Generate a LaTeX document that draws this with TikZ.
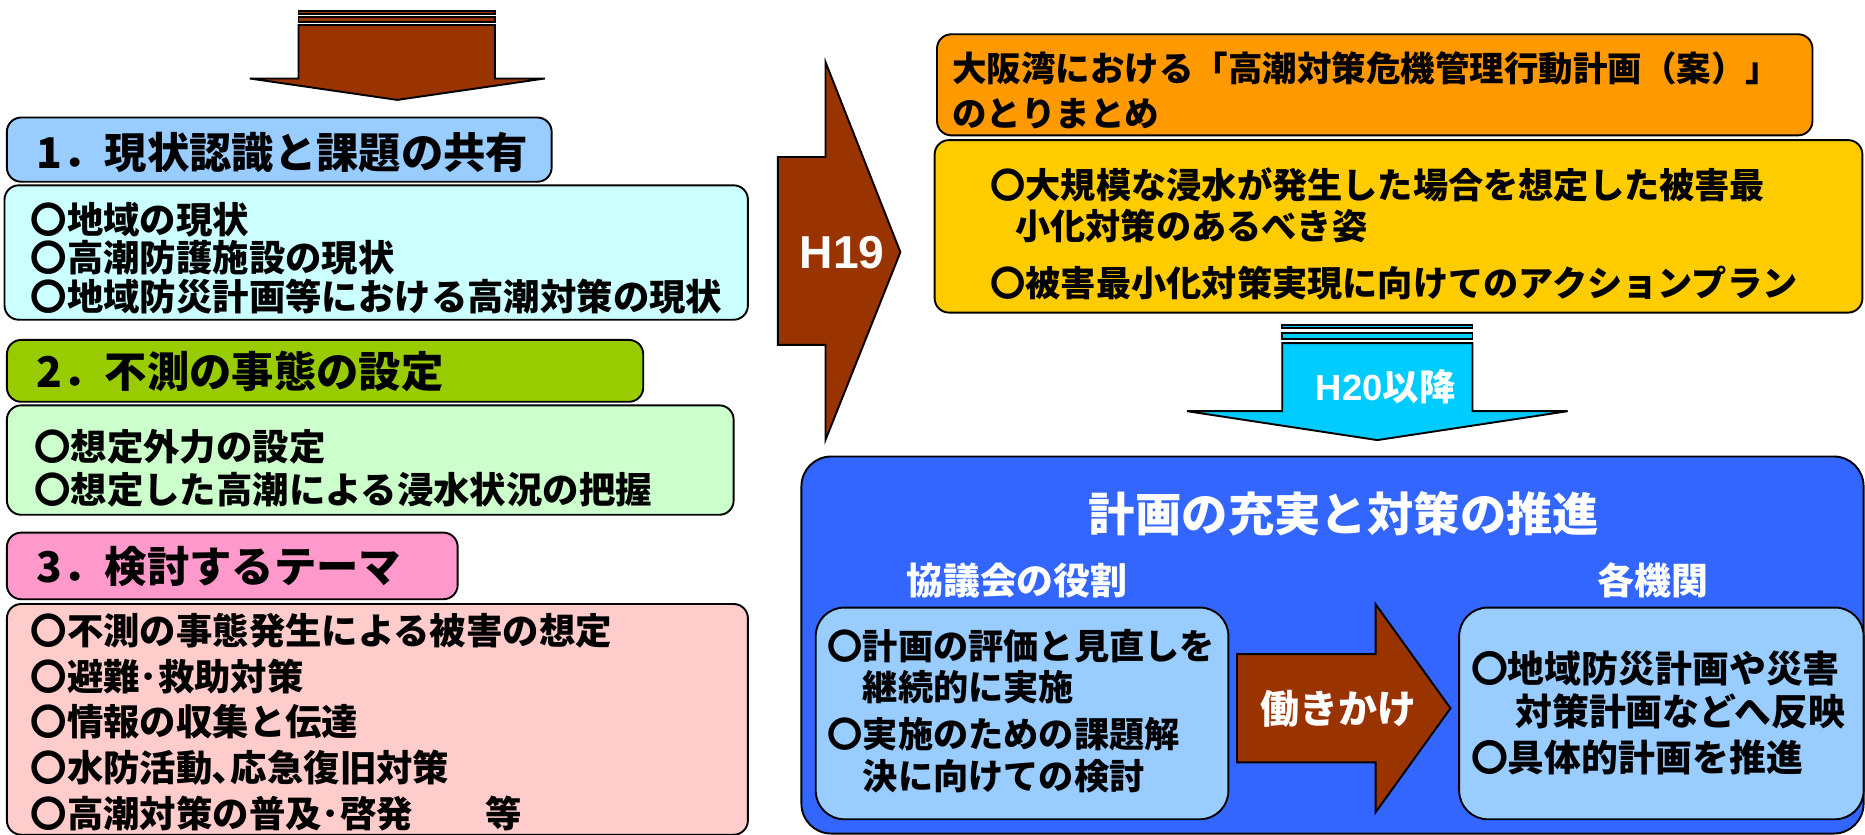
\documentclass[tikz,border=0pt]{standalone}
\usepackage{fontspec}
\setmainfont{Noto Sans CJK JP}
\newfontfamily\latinsans{Liberation Sans}
\usetikzlibrary{positioning}
\definecolor{arrowbrown}{HTML}{993300}
\definecolor{hdrblue}{HTML}{99CCFF}
\definecolor{bodycyan}{HTML}{CCFFFF}
\definecolor{hdrgreen}{HTML}{99CC00}
\definecolor{bodygreen}{HTML}{CCFFCC}
\definecolor{hdrpink}{HTML}{FF99CC}
\definecolor{bodypink}{HTML}{FFCCCC}
\definecolor{boxorange}{HTML}{FF9900}
\definecolor{boxyellow}{HTML}{FFCC00}
\definecolor{arrowcyan}{HTML}{00CCFF}
\definecolor{bigblue}{HTML}{3366FF}
\tikzset{
  panel/.style={draw=black, line width=0.8pt, rounded corners=6pt, anchor=north west, inner sep=0pt},
  hdrtext/.style={anchor=west, inner sep=0pt, font=\bfseries\fontsize{17.8}{20}\selectfont},
  listtext/.style={anchor=west, inner sep=0pt, align=left},
  whitetext/.style={text=white, inner sep=0pt}
}
\begin{document}
\begin{tikzpicture}[x=0.5pt, y=-0.5pt, line width=0.8pt]
\useasboundingbox (0,0) rectangle (1568,702);

% arrow on top
\draw[fill=arrowbrown] (251,9) rectangle (416,12);
\draw[fill=arrowbrown] (251,14.5) rectangle (416,18.5);
\draw[fill=arrowbrown] (251,21) -- (416,21) -- (416,66) -- (458,66) -- (334,84) -- (210,66) -- (251,66) -- cycle;

% left column
\node[panel, fill=hdrblue, minimum width=229pt, minimum height=27pt] (hdr1) at (5,98) {};
\node[panel, fill=bodycyan, minimum width=312.5pt, minimum height=56.5pt] (body1) at (3,155) {};
\node[panel, fill=hdrgreen, minimum width=267.5pt, minimum height=26pt] (hdr2) at (5,285) {};
\node[panel, fill=bodygreen, minimum width=305.5pt, minimum height=46pt] (body2) at (5,340) {};
\node[panel, fill=hdrpink, minimum width=189.5pt, minimum height=28pt] (hdr3) at (5,447) {};
\node[panel, fill=bodypink, minimum width=311.5pt, minimum height=97pt] (body3) at (5,507) {};

\node[hdrtext] (hdr1text) at (30,128) {1．現状認識と課題の共有};
\node[listtext, font=\bfseries\fontsize{15.3}{16.25}\selectfont] (body1text) at (25,217)
  {〇地域の現状\\〇高潮防護施設の現状\\〇地域防災計画等における高潮対策の現状};
\node[hdrtext] (hdr2text) at (30,312) {2．不測の事態の設定};
\node[listtext, font=\bfseries\fontsize{15.3}{18}\selectfont] (body2text) at (28,394)
  {〇想定外力の設定\\〇想定した高潮による浸水状況の把握};
\node[hdrtext] (hdr3text) at (30,476) {3．検討するテーマ};
\node[listtext, font=\bfseries\fontsize{15.3}{19.2}\selectfont] (body3text) at (25,607)
  {〇不測の事態発生による被害の想定\\〇避難･救助対策\\〇情報の収集と伝達\\〇水防活動､応急復旧対策\\〇高潮対策の普及･啓発　　等};

% H19
\draw[fill=arrowbrown] (654,132) -- (694,132) -- (694,52) -- (757,212) -- (694,370) -- (694,290) -- (654,290) -- cycle;
\node[whitetext, font=\latinsans\bfseries\fontsize{19.4}{22}\selectfont] (h19) at (708,212) {H19};

% right column top
\node[panel, fill=boxorange, minimum width=368pt, minimum height=42.5pt] (plan) at (787,28) {};
\node[panel, fill=boxyellow, minimum width=390pt, minimum height=72.5pt] (content) at (785,117) {};
\node[listtext, font=\bfseries\fontsize{14.5}{19}\selectfont] (plantext) at (800,76)
  {大阪湾における「高潮対策危機管理行動計画（案）」\\のとりまとめ};
\node[listtext, font=\bfseries\fontsize{14.8}{17.5}\selectfont] (contenta) at (832,172.5)
  {〇大規模な浸水が発生した場合を想定した被害最\\\hspace{0.7em}小化対策のあるべき姿};
\node[listtext, font=\bfseries\fontsize{14.8}{17.5}\selectfont] (contentb) at (832,238)
  {〇被害最小化対策実現に向けてのアクションプラン};

% H20
\draw[fill=arrowcyan] (1078,273) rectangle (1238,276);
\draw[fill=arrowcyan] (1078,280) rectangle (1238,285);
\draw[fill=arrowcyan] (1078,288.5) -- (1238,288.5) -- (1238,345.7) -- (1318,345.7) -- (1158,370) -- (998,345.7) -- (1078,345.7) -- cycle;
\node[whitetext, font=\bfseries\fontsize{15.3}{18}\selectfont] (h20) at (1165,325) {{\latinsans H20}以降};

% bottom blue panel
\node[panel, fill=bigblue, rounded corners=12.5pt, minimum width=446.5pt, minimum height=158.5pt] (promo) at (673,383) {};
\node[whitetext, font=\bfseries\fontsize{19.5}{22}\selectfont] (promotitle) at (1130,432) {計画の充実と対策の推進};
\node[whitetext, font=\bfseries\fontsize{15.5}{18}\selectfont] (council) at (855,488) {協議会の役割};
\node[whitetext, font=\bfseries\fontsize{15.5}{18}\selectfont] (agencies) at (1390,488) {各機関};

\node[panel, fill=hdrblue, rounded corners=12pt, minimum width=173.5pt, minimum height=89pt] (councilbox) at (685,510) {};
\node[panel, fill=hdrblue, rounded corners=12pt, minimum width=170pt, minimum height=89pt] (agencybox) at (1226,510) {};

\draw[fill=arrowbrown] (1040,550) -- (1156.5,550) -- (1156.5,508) -- (1219.5,595.5) -- (1156.5,683) -- (1156.5,641) -- (1040,641) -- cycle;
\node[whitetext, font=\bfseries\fontsize{16.4}{19}\selectfont] (approach) at (1125,595.5) {働きかけ};

\node[listtext, font=\bfseries\fontsize{14.8}{17.5}\selectfont] (councila) at (695,560.5)
  {〇計画の評価と見直しを\\\hspace{1em}継続的に実施};
\node[listtext, font=\bfseries\fontsize{14.8}{17.5}\selectfont] (councilb) at (695,635)
  {〇実施のための課題解\\\hspace{1em}決に向けての検討};
\node[listtext, font=\bfseries\fontsize{15.5}{18}\selectfont] (agencya) at (1236,580)
  {〇地域防災計画や災害\\\hspace{1.2em}対策計画などへ反映};
\node[listtext, font=\bfseries\fontsize{15.5}{18}\selectfont] (agencyb) at (1236,637)
  {〇具体的計画を推進};
\end{tikzpicture}
\end{document}
